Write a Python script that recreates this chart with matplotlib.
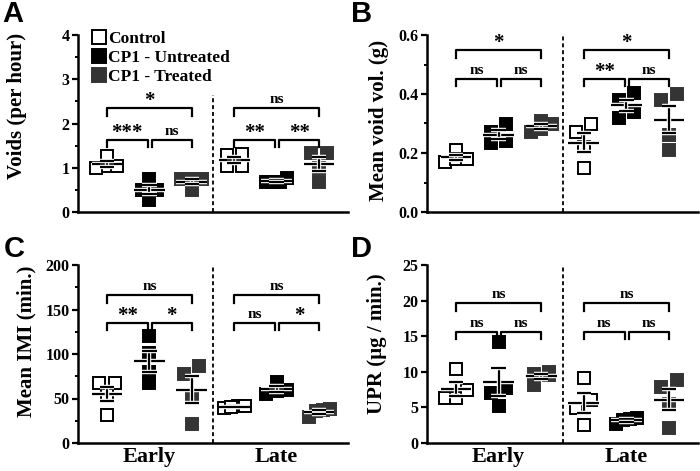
"""Four-panel scatter (mean +/- SEM) of voiding parameters, Early vs Late."""

import numpy as np
import matplotlib
matplotlib.use("Agg")
import matplotlib.pyplot as plt
import matplotlib.patheffects as pe
from matplotlib.lines import Line2D
from matplotlib.ticker import FormatStrFormatter

GROUPS = ["Control", "CP1 - Untreated", "CP1 - Treated"]
PHASES = ["Early", "Late"]

# values per group, order: early ctrl, early untreated, early treated, late ctrl, late untreated, late treated
voids = [
    [1.27, 1.03, 1.00, 1.05],
    [0.75, 0.50, 0.50, 0.27],
    [0.75, 0.75, 0.75, 0.50],
    [1.30, 1.28, 1.05, 1.05],
    [0.76, 0.67, 0.67, 0.67],
    [1.33, 1.33, 1.00, 0.67],
]
void_vol = [
    [0.21, 0.17, 0.18, 0.18],
    [0.30, 0.27, 0.235, 0.24],
    [0.31, 0.30, 0.28, 0.27],
    [0.27, 0.30, 0.22, 0.15],
    [0.38, 0.405, 0.32, 0.34],
    [0.38, 0.40, 0.26, 0.21],
]
imi = [
    [67, 67, 54, 32],
    [120, 101, 80, 67],
    [78, 87, 54, 21],
    [39, 42, 42, 41],
    [55, 60, 69, 58],
    [29, 37, 36, 38],
]
upr = [
    [10.4, 6.3, 6.3, 7.5],
    [14.2, 7.7, 7.0, 5.2],
    [10.0, 8.2, 9.7, 9.5],
    [9.1, 6.1, 4.9, 2.5],
    [2.6, 3.5, 3.4, 3.3],
    [7.9, 8.8, 5.5, 2.1],
]

# significance labels: (top 1-3, lower 1-2, lower 2-3) per phase
sig_a = [["*", "***", "ns"], ["ns", "**", "**"]]
sig_b = [["*", "ns", "ns"], ["*", "**", "ns"]]
sig_c = [["ns", "**", "*"], ["ns", "ns", "*"]]
sig_d = [["ns", "ns", "ns"], ["ns", "ns", "ns"]]

COLORS = ["white", "black", "#343434"]
EDGES = ["black", "black", "#343434"]
SERIF = "Liberation Serif"

plt.rcParams["font.family"] = SERIF
plt.rcParams["font.weight"] = "bold"
plt.rcParams["axes.linewidth"] = 1.8

fig = plt.figure(figsize=(7, 4.71), dpi=100)


def swarm_offsets(vals, thr, step, max_span):
    vals = np.asarray(vals, dtype=float)
    order = np.argsort(vals)
    offs = np.zeros(len(vals))
    rows, cur = [], [order[0]]
    for i in order[1:]:
        if vals[i] - vals[cur[0]] < thr:
            cur.append(i)
        else:
            rows.append(cur); cur = [i]
    rows.append(cur)
    for r in rows:
        n = len(r)
        s = step if n < 3 else min(step, max_span / (n - 1))
        for k, i in enumerate(r):
            offs[i] = (k - (n - 1) / 2) * s
    return offs


def panel(rect, data, sigs, ylim, major, minor, ylabel, ylab_xy, top_y, low_y,
          letter, letter_xy, fmt, xlabels=False, div_top=None):
    ax = fig.add_axes(rect)
    yr = ylim[1] - ylim[0]
    px = yr / 177.0  # data units per pixel (vertical)
    stroke = [pe.Stroke(linewidth=3.2, foreground="white"), pe.Normal()]
    for i, vals in enumerate(data):
        g = i % 3
        x0 = i + 1
        offs = swarm_offsets(vals, 10 * px, 0.36, 0.5)
        ax.plot(x0 + offs, vals, ls="none", marker="s", ms=9.3,
                mfc=COLORS[g], mec=EDGES[g], mew=1.4, zorder=3)
        m = np.mean(vals)
        se = np.std(vals, ddof=1) / np.sqrt(len(vals))
        kw = dict(color="black", lw=1.6, zorder=4, path_effects=stroke,
                  solid_capstyle="butt")
        ax.plot([x0 - 0.36, x0 + 0.36], [m, m], **kw)
        ax.plot([x0, x0], [m - se, m + se], **kw)
        ax.plot([x0 - 0.17, x0 + 0.17], [m + se, m + se], **kw)
        ax.plot([x0 - 0.17, x0 + 0.17], [m - se, m - se], **kw)

    tick = 7.5 * px
    for p, labs in enumerate(sigs):
        b = 1 + 3 * p
        spans = [(b, b + 2, top_y), (b, b + 0.96, low_y), (b + 1.06, b + 2, low_y)]
        for (xa, xb, yb), lab in zip(spans, labs):
            ax.plot([xa, xa, xb, xb], [yb - tick, yb, yb, yb - tick],
                    color="black", lw=1.6, zorder=2)
            yoff = 2 * px if lab == "ns" else -3 * px
            ax.text((xa + xb) / 2, yb + yoff, lab, ha="center", va="bottom",
                    fontsize=11 if lab == "ns" else 15, fontweight="bold")

    ax.axvline(3.5, ymin=0, ymax=1 if div_top is None else div_top,
               color="black", ls=(0, (2.2, 1.6)), lw=1.3)

    ax.set_xlim(0.32, 6.68)
    ax.set_ylim(*ylim)
    ax.set_yticks(np.arange(ylim[0], ylim[1] + major / 2, major))
    if minor:
        ax.set_yticks(np.arange(ylim[0], ylim[1] + minor / 2, minor), minor=True)
    ax.yaxis.set_major_formatter(FormatStrFormatter(fmt))
    ax.spines[["top", "right"]].set_visible(False)
    ax.tick_params(axis="y", which="major", length=4, width=1.6, labelsize=11.5, pad=2)
    ax.tick_params(axis="y", which="minor", length=2.5, width=1.4)
    if xlabels:
        ax.set_xticks([2, 5])
        ax.set_xticklabels(PHASES, fontsize=16, fontweight="bold")
        ax.tick_params(axis="x", length=0, pad=3)
    else:
        ax.set_xticks([])
    ax.set_ylabel(ylabel, fontsize=15, fontweight="bold")
    ax.yaxis.set_label_coords(*ylab_xy)
    fig.text(letter_xy[0], letter_xy[1], letter, family="Liberation Sans",
             fontsize=21, fontweight="bold", va="top", ha="left")
    return ax


W, H = 700.0, 471.0
top_row = (212.0, 35.0)
bot_row = (443.0, 265.0)


def rect(x0, x1, ybot, ytop):
    return [x0 / W, 1 - ybot / H, (x1 - x0) / W, (ybot - ytop) / H]


ax_a = panel(rect(78, 348, *top_row), voids, sig_a, (0, 4), 1, 0.5,
             "Voids (per hour)", (-0.19, 0.6), 2.34, 1.63, "A", (0.003, 1.0),
             "%d", div_top=0.66)
panel(rect(427, 698, *top_row), void_vol, sig_b, (0, 0.6), 0.2, 0.1,
      "Mean void vol. (g)", (-0.14, 0.52), 0.549, 0.451, "B", (0.502, 1.0), "%.1f")
panel(rect(78, 348, *bot_row), imi, sig_c, (0, 200), 50, 25,
      "Mean IMI (min.)", (-0.155, 0.57), 166, 135, "C", (0.006, 0.502), "%d",
      xlabels=True)
panel(rect(427, 698, *bot_row), upr, sig_d, (0, 25), 5, None,
      "UPR (\u00b5g / min.)", (-0.148, 0.56), 19.6, 15.65, "D", (0.502, 0.502),
      "%d", xlabels=True)

handles = [Line2D([], [], ls="none", marker="s", ms=10, mfc=COLORS[g],
                  mec=EDGES[g], mew=1.4) for g in range(3)]
ax_a.legend(handles, GROUPS, loc="upper left", bbox_to_anchor=(0.02, 1.06),
            frameon=False, handletextpad=0.0, handlelength=1.0,
            labelspacing=0.15, borderaxespad=0.0,
            prop={"family": SERIF, "weight": "bold", "size": 12.5})

fig.savefig("out.png", dpi=100)
